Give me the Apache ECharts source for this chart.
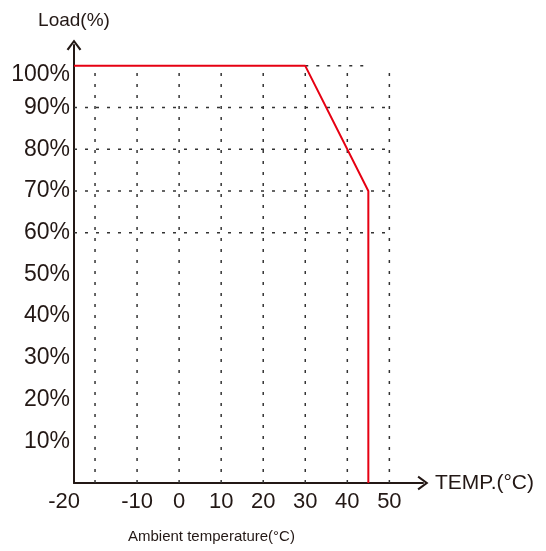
<!DOCTYPE html>
<html>
<head>
<meta charset="utf-8">
<script src="https://cdn.jsdelivr.net/npm/echarts@6/dist/echarts.min.js"></script>
<style>html,body{margin:0;padding:0;background:#fff}#c{width:546px;height:551px}</style>
</head>
<body>
<div id="c"></div>
<script>
// Data
const xTicks = [-20, -10, 0, 10, 20, 30, 40, 50];
const yTicks = [10, 20, 30, 40, 50, 60, 70, 80, 90, 100];
const curveTemp = [-25, 30, 45, 45];
const curveLoad = [100, 100, 70, 0];
const hGridLoads = [60, 70, 80, 90];
const topGridTemp = [30, 44];

const chart = echarts.init(document.getElementById('c'));
const ink = '#231815';
const font = 'Liberation Sans, Arial, sans-serif';
const dotStyle = { color: '#333', width: 1.5, type: [3, 8] };

const series = [];
xTicks.forEach(function (t) {
  series.push({ type: 'line', silent: true, symbol: 'none', z: 1,
    lineStyle: dotStyle, data: [[t, 0], [t, 100]] });
});
hGridLoads.forEach(function (l) {
  series.push({ type: 'line', silent: true, symbol: 'none', z: 1,
    lineStyle: dotStyle, data: [[-25, l], [50, l]] });
});
series.push({ type: 'line', silent: true, symbol: 'none', z: 1,
  lineStyle: dotStyle, data: topGridTemp.map(function (t) { return [t, 100]; }) });
series.push({ type: 'line', symbol: 'none', z: 5,
  lineStyle: { color: '#e60012', width: 2 },
  data: curveTemp.map(function (t, i) { return [t, curveLoad[i]]; }) });

const chevron = 'path://M0,10 L7.5,0 L15,10 L13.2,11.2 L7.5,3.4 L1.8,11.2 Z';

chart.setOption({
  animation: false,
  title: {
    text: 'Ambient temperature(°C)', left: 123, top: 524,
    textStyle: { fontFamily: font, fontSize: 15, fontWeight: 'normal', color: ink }
  },
  grid: { left: 74, right: 123, top: 45, bottom: 68 },
  xAxis: {
    type: 'value', min: -25, max: 58,
    name: 'TEMP.(°C)', nameLocation: 'end', nameGap: 12,
    nameTextStyle: { fontFamily: font, fontSize: 21, color: ink, verticalAlign: 'middle' },
    axisLine: { onZero: false, lineStyle: { color: ink, width: 2 }, symbol: ['none', chevron], symbolSize: [15, 11], symbolOffset: [0, 0] },
    axisTick: { show: false },
    splitLine: { show: false },
    axisLabel: {
      customValues: xTicks, margin: 8, fontFamily: font, fontSize: 22, color: ink,
      formatter: function (v) { return v === -20 ? '{a|-20}' : String(v); },
      rich: { a: { fontFamily: font, fontSize: 22, color: ink, padding: [0, 62, 0, 0] } }
    }
  },
  yAxis: {
    type: 'value', min: 0, max: 105,
    name: 'Load(%)', nameLocation: 'end', nameGap: 15,
    nameTextStyle: { fontFamily: font, fontSize: 19, color: ink },
    axisLine: { show: true, onZero: false, lineStyle: { color: ink, width: 2 }, symbol: ['none', chevron], symbolSize: [15, 11], symbolOffset: [0, 0] },
    axisTick: { show: false },
    splitLine: { show: false },
    axisLabel: {
      customValues: yTicks, margin: 4, fontFamily: font, fontSize: 23, color: ink,
      formatter: function (v) { return v === 100 ? '{a|100%}' : v + '%'; },
      rich: { a: { fontFamily: font, fontSize: 23, color: ink, padding: [18, 0, 0, 0] } }
    }
  },
  series: series
});
</script>
</body>
</html>
